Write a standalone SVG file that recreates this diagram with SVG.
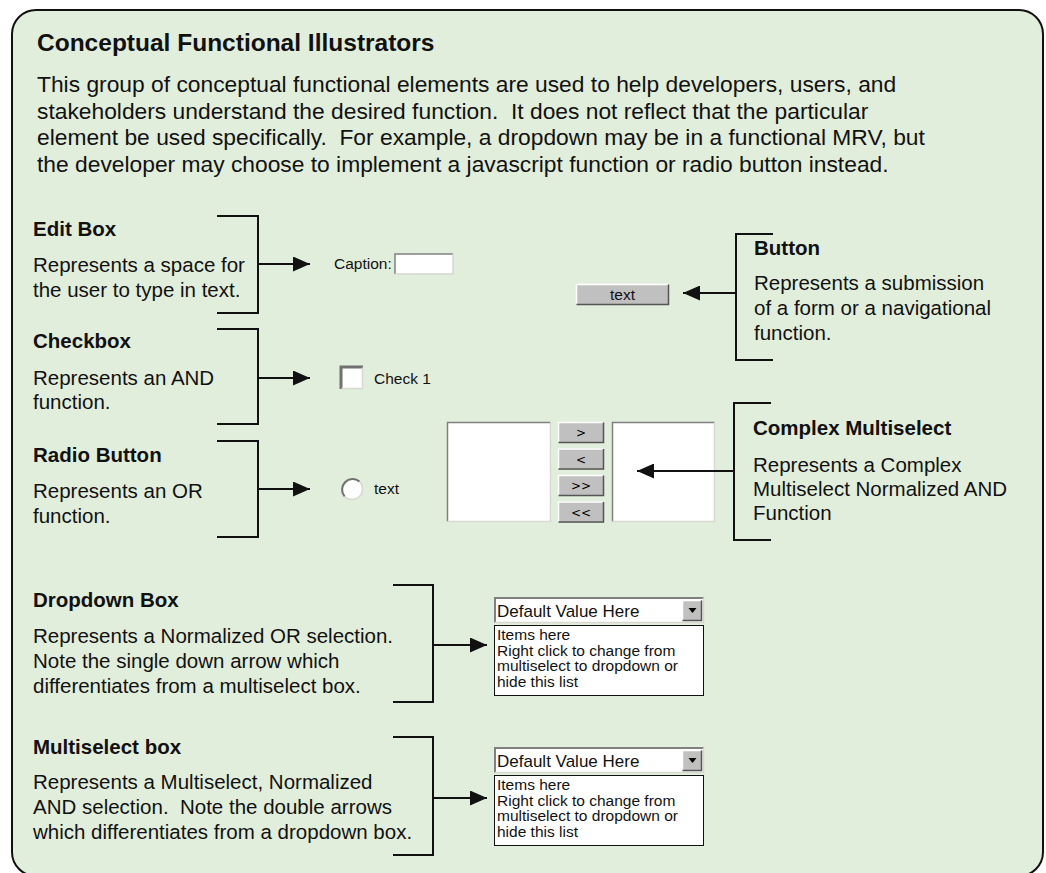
<svg xmlns="http://www.w3.org/2000/svg" width="1046" height="873" viewBox="0 0 1046 873">
<style>
text{font-family:"Liberation Sans",Arial,sans-serif;fill:#111;white-space:pre}
.ttl{font-size:24.5px;font-weight:bold}
.pp{font-size:22.8px}
.p{font-size:20.5px}
.h{font-size:20.5px;font-weight:bold}
.s{font-size:15.5px}
.m{font-family:"DejaVu Sans",sans-serif;font-size:12px;text-anchor:middle;fill:#000}
.br{stroke:#111;stroke-width:2;fill:none}
.ar{stroke:#111;stroke-width:2;fill:none;marker-end:url(#ah)}
.face{fill:#C0C0C0}
.wh{fill:#fff}
.lt{stroke:#fff;stroke-width:1.5}
.dk{stroke:#555;stroke-width:1.5}
.sk1{stroke:#808080;stroke-width:1.5}
.sk2{stroke:#d8d8d0;stroke-width:1.5}
</style>
<defs>
<marker id="ah" viewBox="0 0 17 15" refX="17" refY="7.5" markerWidth="17" markerHeight="15" markerUnits="userSpaceOnUse" orient="auto"><path d="M0,0 L17,7.5 L0,15z" fill="#111"/></marker>
</defs>

<g id="panel">
<rect x="12" y="10" width="1031" height="866" rx="24" fill="#E2EEDC" stroke="#111" stroke-width="2"/>
<text class="ttl" x="37" y="51">Conceptual Functional Illustrators</text>
<text class="pp" x="37" y="92">This group of conceptual functional elements are used to help developers, users, and</text>
<text class="pp" x="37" y="118.5">stakeholders understand the desired function.  It does not reflect that the particular</text>
<text class="pp" x="37" y="145">element be used specifically.  For example, a dropdown may be in a functional MRV, but</text>
<text class="pp" x="37" y="171.5">the developer may choose to implement a javascript function or radio button instead.</text>
</g>

<g id="editbox-desc">
<text class="h" x="33" y="236">Edit Box</text>
<text class="p" x="33" y="272">Represents a space for</text>
<text class="p" x="33" y="297">the user to type in text.</text>
</g>
<g id="editbox-widget">
<text class="s" x="334" y="269">Caption:</text>
<rect class="wh" x="395" y="254" width="58" height="20"/>
<path class="sk1" d="M395,274 V254 H453" fill="none"/>
<path class="sk2" d="M395,274 H453 V254" fill="none"/>
</g>

<g id="checkbox-desc">
<text class="h" x="33" y="348">Checkbox</text>
<text class="p" x="33" y="385">Represents an AND</text>
<text class="p" x="33" y="409">function.</text>
</g>
<g id="checkbox-widget">
<rect class="wh" x="341" y="367" width="22" height="22"/>
<path d="M341,389 V367 H363" fill="none" stroke="#707070" stroke-width="3"/>
<path class="sk2" d="M341.5,388.5 H362.5 V367.5" fill="none"/>
<text class="s" x="374" y="383.5">Check 1</text>
</g>

<g id="radio-desc">
<text class="h" x="33" y="462">Radio Button</text>
<text class="p" x="33" y="498">Represents an OR</text>
<text class="p" x="33" y="523">function.</text>
</g>
<g id="radio-widget">
<circle cx="352" cy="489" r="10.5" fill="#fff" stroke="#d8d8d0" stroke-width="1.5"/>
<path d="M344.6,496.4 A10.5,10.5 0 0 1 359.4,481.6" fill="none" stroke="#707070" stroke-width="2"/>
<text class="s" x="374" y="494">text</text>
</g>

<g id="button-desc">
<text class="h" x="754" y="255">Button</text>
<text class="p" x="754" y="290">Represents a submission</text>
<text class="p" x="754" y="315">of a form or a navigational</text>
<text class="p" x="754" y="340">function.</text>
</g>
<g id="button-widget">
<rect class="face" x="576" y="284" width="93" height="21"/>
<path class="lt" d="M576.5,304.5 V284.5 H668.5" fill="none"/>
<path class="dk" d="M576.5,304.5 H668.5 V284.5" fill="none"/>
<text class="s" x="622.5" y="299.5" text-anchor="middle">text</text>
</g>

<g id="complex-desc">
<text class="h" x="753" y="435">Complex Multiselect</text>
<text class="p" x="753" y="472">Represents a Complex</text>
<text class="p" x="753" y="496">Multiselect Normalized AND</text>
<text class="p" x="753" y="520">Function</text>
</g>
<g id="complex-widget">
<rect class="wh" x="447" y="422" width="104" height="100"/>
<path class="sk1" d="M447.5,521.5 V422.5 H550.5" fill="none"/>
<path class="sk2" d="M447.5,521.5 H550.5 V422.5" fill="none"/>
<rect class="wh" x="612" y="422" width="103" height="100"/>
<path class="sk1" d="M612.5,521.5 V422.5 H714.5" fill="none"/>
<path class="sk2" d="M612.5,521.5 H714.5 V422.5" fill="none"/>
<g id="btn-gt">
<rect class="face" x="558" y="422" width="46" height="21"/>
<path class="lt" d="M558.5,442.5 V422.5 H603.5" fill="none"/>
<path class="dk" d="M558.5,442.5 H603.5 V422.5" fill="none"/>
<text class="m" x="581" y="437">&gt;</text>
</g>
<g id="btn-lt">
<rect class="face" x="558" y="448.5" width="46" height="21"/>
<path class="lt" d="M558.5,469 V449 H603.5" fill="none"/>
<path class="dk" d="M558.5,469 H603.5 V449" fill="none"/>
<text class="m" x="581" y="463.5">&lt;</text>
</g>
<g id="btn-gtgt">
<rect class="face" x="558" y="475" width="46" height="21"/>
<path class="lt" d="M558.5,495.5 V475.5 H603.5" fill="none"/>
<path class="dk" d="M558.5,495.5 H603.5 V475.5" fill="none"/>
<text class="m" x="581" y="490">&gt;&gt;</text>
</g>
<g id="btn-ltlt">
<rect class="face" x="558" y="501.5" width="46" height="21"/>
<path class="lt" d="M558.5,522 V502 H603.5" fill="none"/>
<path class="dk" d="M558.5,522 H603.5 V502" fill="none"/>
<text class="m" x="581" y="516.5">&lt;&lt;</text>
</g>
</g>

<g id="dropdown-desc">
<text class="h" x="33" y="607">Dropdown Box</text>
<text class="p" x="33" y="643">Represents a Normalized OR selection.</text>
<text class="p" x="33" y="668">Note the single down arrow which</text>
<text class="p" x="33" y="693">differentiates from a multiselect box.</text>
</g>
<g id="dropdown-widget">
<rect class="wh" x="494" y="597" width="210" height="26"/>
<path d="M495,623 V598 H704" fill="none" stroke="#808080" stroke-width="2"/>
<path class="sk2" d="M494.5,622.5 H703.5 V597.5" fill="none"/>
<rect class="face" x="682" y="600" width="20" height="21"/>
<path class="lt" d="M682.5,620.5 V600.5 H701.5" fill="none"/>
<path class="dk" d="M682.5,620.5 H701.5 V600.5" fill="none"/>
<path d="M688.5,608 H696.5 L692.5,613z" fill="#000"/>
<text x="497" y="616.5" style="font-size:17px">Default Value Here</text>
<rect x="494.5" y="625.5" width="209" height="70" fill="#fff" stroke="#111" stroke-width="1"/>
<text class="s" x="497" y="640">Items here</text>
<text class="s" x="497" y="655.5">Right click to change from</text>
<text class="s" x="497" y="671">multiselect to dropdown or</text>
<text class="s" x="497" y="686.5">hide this list</text>
</g>

<g id="multiselect-desc">
<text class="h" x="33" y="754">Multiselect box</text>
<text class="p" x="33" y="789">Represents a Multiselect, Normalized</text>
<text class="p" x="33" y="814">AND selection.  Note the double arrows</text>
<text class="p" x="33" y="839">which differentiates from a dropdown box.</text>
</g>
<g id="multiselect-widget">
<rect class="wh" x="494" y="747" width="210" height="26"/>
<path d="M495,773 V748 H704" fill="none" stroke="#808080" stroke-width="2"/>
<path class="sk2" d="M494.5,772.5 H703.5 V747.5" fill="none"/>
<rect class="face" x="682" y="750" width="20" height="21"/>
<path class="lt" d="M682.5,770.5 V750.5 H701.5" fill="none"/>
<path class="dk" d="M682.5,770.5 H701.5 V750.5" fill="none"/>
<path d="M688.5,758 H696.5 L692.5,763z" fill="#000"/>
<text x="497" y="766.5" style="font-size:17px">Default Value Here</text>
<rect x="494.5" y="775.5" width="209" height="70" fill="#fff" stroke="#111" stroke-width="1"/>
<text class="s" x="497" y="790">Items here</text>
<text class="s" x="497" y="805.5">Right click to change from</text>
<text class="s" x="497" y="821">multiselect to dropdown or</text>
<text class="s" x="497" y="836.5">hide this list</text>
</g>

<g id="connectors">
<path class="br" d="M217,216 H258 V313 H217"/>
<path class="ar" d="M258,264 H310"/>
<path class="br" d="M217,329 H258 V424 H217"/>
<path class="ar" d="M258,378 H310"/>
<path class="br" d="M217,441 H258 V537 H217"/>
<path class="ar" d="M258,489 H310"/>
<path class="br" d="M773,234 H736 V360 H773"/>
<path class="ar" d="M736,293 H683"/>
<path class="br" d="M771,403 H734 V540 H771"/>
<path class="ar" d="M734,471 H637"/>
<path class="br" d="M393,585 H433 V702 H393"/>
<path class="ar" d="M433,645 H487"/>
<path class="br" d="M393,737 H433 V855 H393"/>
<path class="ar" d="M433,798 H487"/>
</g>
</svg>
